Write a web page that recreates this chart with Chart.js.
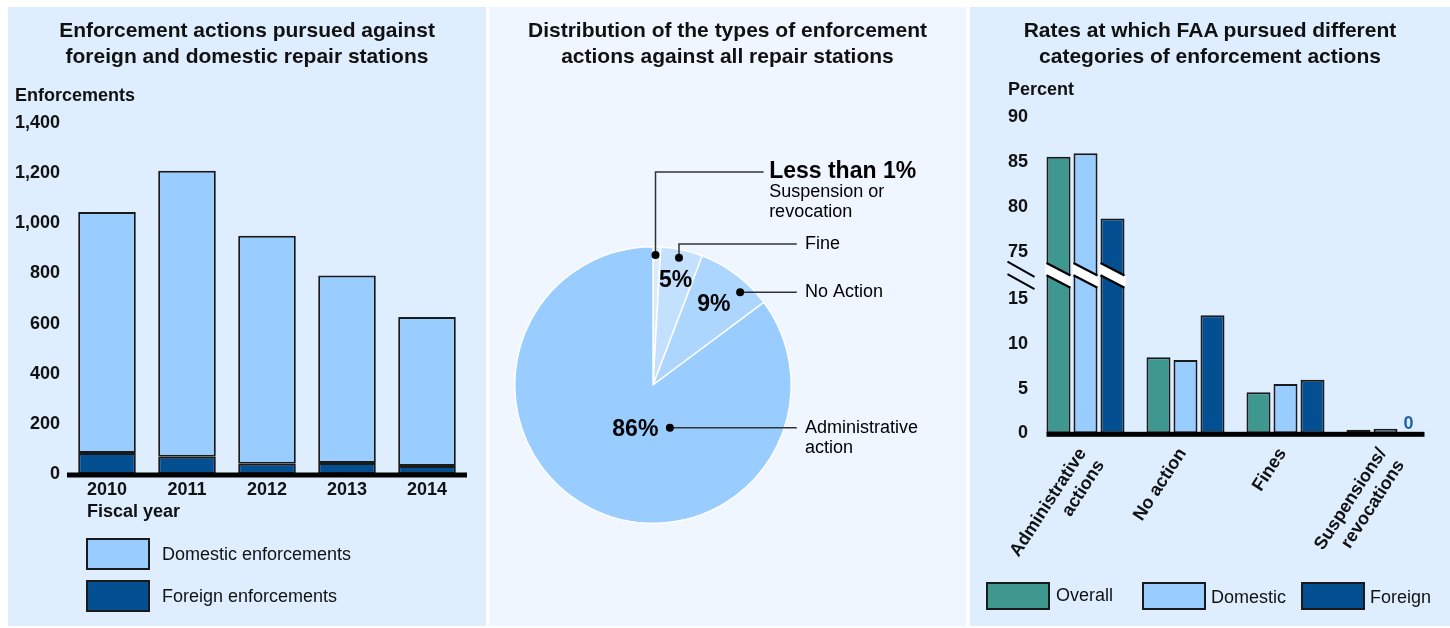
<!DOCTYPE html>
<html>
<head>
<meta charset="utf-8">
<script src="https://cdn.jsdelivr.net/npm/chart.js@4.4.1/dist/chart.umd.min.js"></script>
<style>
  body { margin: 0; width: 1450px; height: 628px; background: #fff; position: relative; overflow: hidden;
         font-family: "Liberation Sans", Arial, Helvetica, sans-serif; color: #111; }
  .panel { position: absolute; top: 7px; height: 619px; }
  #p1 { left: 8px; width: 478px; background: #deeeff; }
  #p2 { left: 489px; width: 477px; background: #eff6ff; }
  #p3 { left: 970px; width: 480px; background: #deeeff; }
  .panel canvas { position: absolute; left: 0; top: 0; }
  .title { position: absolute; left: 0; right: 0; top: 10px; text-align: center; font-weight: bold;
           font-size: 21px; line-height: 26px; }
  .axlabel { position: absolute; font-weight: bold; font-size: 18px; line-height: 20px; }
  .box { position: absolute; box-sizing: border-box; border: 2px solid #1a1a1a; }
  .lgtext { position: absolute; font-size: 18px; line-height: 20px; }
</style>
</head>
<body>
<div class="panel" id="p1">
  <canvas id="c1" width="478" height="619"></canvas>
  <div class="title">Enforcement actions pursued against<br>foreign and domestic repair stations</div>
  <div class="axlabel" style="left:7px;top:78px">Enforcements</div>
  <div class="axlabel" style="left:79px;top:494px">Fiscal year</div>
  <div class="box" style="left:78px;top:531px;width:64px;height:32px;background:#99ccff"></div>
  <div class="lgtext" style="left:154px;top:537px">Domestic enforcements</div>
  <div class="box" style="left:78px;top:573px;width:64px;height:32px;background:#034f92"></div>
  <div class="lgtext" style="left:154px;top:579px">Foreign enforcements</div>
</div>
<div class="panel" id="p2">
  <canvas id="c2" width="477" height="619"></canvas>
  <div class="title">Distribution of the types of enforcement<br>actions against all repair stations</div>
</div>
<div class="panel" id="p3">
  <canvas id="c3" width="480" height="619"></canvas>
  <div class="title">Rates at which FAA pursued different<br>categories of enforcement actions</div>
  <div class="axlabel" style="left:38px;top:72px">Percent</div>
  <div class="box" style="left:16px;top:575px;width:64px;height:28px;background:#3f9890"></div>
  <div class="lgtext" style="left:86px;top:578px">Overall</div>
  <div class="box" style="left:172px;top:575px;width:64px;height:28px;background:#99ccff"></div>
  <div class="lgtext" style="left:241px;top:580px">Domestic</div>
  <div class="box" style="left:331px;top:575px;width:64px;height:28px;background:#034f92"></div>
  <div class="lgtext" style="left:400px;top:580px">Foreign</div>
</div>
<script>
// ---- data: left panel, enforcements per fiscal year
const years = ['2010', '2011', '2012', '2013', '2014'];
const domesticEnf = [961, 1141, 909, 748, 594];
const foreignEnf = [84, 69, 41, 44, 32];

// ---- data: middle panel, share of enforcement types (percent)
const typeNames = ['Suspension or revocation', 'Fine', 'No Action', 'Administrative action'];
const typeShares = [0.9, 4.9, 9.0, 85.2];
const typeLabels = ['Less than 1%', '5%', '9%', '86%'];

// ---- data: right panel, rates by category (percent)
const rateCats = [['Administrative', 'actions'], 'No action', 'Fines', ['Suspensions/', 'revocations']];
const rateOverall = [85.6, 8.5, 4.6, 0.4];
const rateDomestic = [86.0, 8.2, 5.5, 0.5];
const rateForeign = [78.7, 13.2, 6.0, 0];
const rateTicks = [0, 5, 10, 15, 75, 80, 85, 90];

const FONT = '"Liberation Sans", Arial, sans-serif';
const C_DOM = '#99ccff', C_FOR = '#034f92', C_ALL = '#3f9890', C_EDGE = '#1a1a1a';

Chart.defaults.font.family = FONT;
Chart.defaults.color = '#111';
Chart.defaults.animation = false;
Chart.defaults.plugins.legend.display = false;
Chart.defaults.plugins.tooltip.enabled = false;

// thick black baseline at value 0
function baseLine(x0, x1, y) {
  return (ctx) => {
    ctx.save();
    ctx.fillStyle = '#000';
    ctx.fillRect(x0, y - 1.5, x1 - x0, 5);
    ctx.restore();
  };
}

// ---------------- left: stacked bars ----------------
new Chart(document.getElementById('c1'), {
  type: 'bar',
  data: {
    labels: years,
    datasets: [
      { label: 'Foreign enforcements', data: foreignEnf, backgroundColor: C_FOR,
        borderColor: C_EDGE, borderWidth: 2, borderSkipped: false, barPercentage: 0.72, categoryPercentage: 1 },
      { label: 'Domestic enforcements', data: domesticEnf, backgroundColor: C_DOM,
        borderColor: C_EDGE, borderWidth: 2, borderSkipped: false, barPercentage: 0.72, categoryPercentage: 1 }
    ]
  },
  options: {
    responsive: false,
    layout: { padding: { top: 116, right: 19, left: 0, bottom: 0 } },
    scales: {
      x: {
        stacked: true,
        grid: { display: false, drawTicks: false }, border: { display: false },
        ticks: { font: { size: 18, weight: 'bold' }, padding: 5 },
        afterFit: (s) => { s.height = 152; }
      },
      y: {
        stacked: true, min: 0, max: 1400,
        grid: { display: false, drawTicks: false }, border: { display: false },
        ticks: { stepSize: 200, font: { size: 18, weight: 'bold' }, padding: 7 },
        afterFit: (s) => { s.width = 59; }
      }
    }
  },
  plugins: [{
    id: 'zeroLine1',
    afterDatasetsDraw(chart) {
      const a = chart.chartArea;
      baseLine(a.left, a.right, chart.scales.y.getPixelForValue(0))(chart.ctx);
    }
  }]
});

// ---------------- middle: pie ----------------
// callouts: dot at fraction t of the slice angle and rf of the radius;
// leader elbow / end and text x are in radius units from the centre
const callouts = [
  { t: 0.34, rf: 0.94, elbowY: -1.54, endX: 0.80, textX: 0.84, big: true },
  { t: 0.47, rf: 0.94, elbowY: -1.02, endX: 1.04, textX: 1.10 },
  { t: 0.69, rf: 0.92, endX: 1.04, textX: 1.10 },
  { t: 0.343, rf: 0.333, endX: 1.04, textX: 1.10 }
];
const pctPos = [null, { t: 0.51, rf: 0.77 }, { t: 0.5, rf: 0.73 }, { t: 0.483, rf: 0.35 }];
const calloutText = [['Suspension or', 'revocation'], ['Fine'], ['No Action'], ['Administrative', 'action']];

new Chart(document.getElementById('c2'), {
  type: 'pie',
  data: {
    labels: typeNames,
    datasets: [{
      data: typeShares,
      backgroundColor: ['#dcecff', '#c3e0ff', '#add6ff', '#99ccff'],
      borderColor: '#ffffff', borderWidth: 1.5
    }]
  },
  options: {
    responsive: false,
    layout: { padding: { left: 25, top: 239, right: 174, bottom: 102 } }
  },
  plugins: [{
    id: 'callouts',
    afterDatasetsDraw(chart) {
      const ctx = chart.ctx;
      const arcs = chart.getDatasetMeta(0).data;
      const pt = (arc, t, rf) => {
        const ang = arc.startAngle + t * (arc.endAngle - arc.startAngle);
        return [arc.x + rf * arc.outerRadius * Math.cos(ang), arc.y + rf * arc.outerRadius * Math.sin(ang)];
      };
      ctx.save();
      arcs.forEach((arc, i) => {
        const c = callouts[i];
        const R = arc.outerRadius;
        const [dx, dy] = pt(arc, c.t, c.rf);
        ctx.strokeStyle = '#333';
        ctx.lineWidth = 1.5;
        ctx.beginPath();
        ctx.moveTo(dx, dy);
        let ly = dy;
        if (c.elbowY !== undefined) {
          ly = arc.y + c.elbowY * R;
          ctx.lineTo(dx, ly);
        }
        ctx.lineTo(arc.x + c.endX * R, ly);
        ctx.stroke();
        ctx.fillStyle = '#000';
        ctx.beginPath();
        ctx.arc(dx, dy, 4, 0, Math.PI * 2);
        ctx.fill();

        const tx = arc.x + c.textX * R;
        ctx.textAlign = 'left';
        ctx.textBaseline = 'middle';
        let y = ly;
        if (c.big) {
          ctx.font = 'bold 23px ' + FONT;
          ctx.fillText(typeLabels[i], tx, y);
          y += 20;
        }
        ctx.font = '18px ' + FONT;
        calloutText[i].forEach((line, k) => ctx.fillText(line, tx, y + k * 20));

        if (pctPos[i]) {
          const [px, py] = pt(arc, pctPos[i].t, pctPos[i].rf);
          ctx.font = 'bold 23px ' + FONT;
          ctx.textAlign = 'center';
          ctx.fillText(typeLabels[i], px, py);
        }
      });
      ctx.restore();
    }
  }]
});

// ---------------- right: grouped bars with broken axis ----------------
const BREAK_LOW = 15, BREAK_HIGH = 75, BREAK_SHIFT = 54.68;
const toAxis = (v) => (v > BREAK_LOW ? v - BREAK_SHIFT : v);
const breakMid = (BREAK_LOW + (BREAK_HIGH - BREAK_SHIFT)) / 2;

function rateSet(label, values, color) {
  return {
    label, data: values.map(toAxis), backgroundColor: color, borderColor: C_EDGE, borderWidth: 2,
    borderSkipped: false, barPercentage: 0.889, categoryPercentage: 0.81
  };
}

new Chart(document.getElementById('c3'), {
  type: 'bar',
  data: {
    labels: rateCats,
    datasets: [
      rateSet('Overall', rateOverall, C_ALL),
      rateSet('Domestic', rateDomestic, C_DOM),
      rateSet('Foreign', rateForeign, C_FOR)
    ]
  },
  options: {
    responsive: false,
    layout: { padding: { top: 110.5, right: 14.5, left: 0, bottom: 0 } },
    scales: {
      x: {
        grid: { display: false, drawTicks: false }, border: { display: false },
        ticks: { font: { size: 18, weight: 'bold' }, minRotation: 57, maxRotation: 57, autoSkip: false,
                 padding: 11, labelOffset: -3 },
        afterFit: (s) => { s.height = 192.7; }
      },
      y: {
        min: 0, max: toAxis(90),
        grid: { display: false, drawTicks: false }, border: { display: false },
        afterBuildTicks: (s) => { s.ticks = rateTicks.map((v) => ({ value: toAxis(v) })); },
        ticks: { font: { size: 18, weight: 'bold' }, padding: 7.5, callback: (v, i) => rateTicks[i] },
        afterFit: (s) => { s.width = 65.5; }
      }
    }
  },
  plugins: [{
    id: 'breaks',
    afterDatasetsDraw(chart) {
      const ctx = chart.ctx;
      const yc = chart.scales.y.getPixelForValue(breakMid);
      const half = 6.15;
      const first = chart.getDatasetMeta(0).data[0];
      const last = chart.getDatasetMeta(2).data[3];
      baseLine(first.x - first.width / 2, last.x + last.width / 2, chart.scales.y.getPixelForValue(0))(ctx);

      ctx.save();
      // white band through the bars that cross the break
      for (let d = 0; d < 3; d++) {
        chart.getDatasetMeta(d).data.forEach((bar, i) => {
          if (chart.data.datasets[d].data[i] <= BREAK_LOW) return;
          const xl = bar.x - bar.width / 2 - 1, xr = bar.x + bar.width / 2 + 1;
          const k = 0.518;
          const y1 = (x) => yc - half + k * (x - bar.x);
          const y2 = (x) => yc + half + k * (x - bar.x);
          ctx.fillStyle = '#ffffff';
          ctx.beginPath();
          ctx.moveTo(xl, y1(xl)); ctx.lineTo(xr, y1(xr)); ctx.lineTo(xr, y2(xr)); ctx.lineTo(xl, y2(xl));
          ctx.closePath();
          ctx.fill();
          ctx.strokeStyle = '#000';
          ctx.lineWidth = 2.2;
          ctx.beginPath();
          ctx.moveTo(xl + 1, y1(xl + 1)); ctx.lineTo(xr - 1, y1(xr - 1));
          ctx.moveTo(xl + 1, y2(xl + 1)); ctx.lineTo(xr - 1, y2(xr - 1));
          ctx.stroke();
        });
      }
      // double slash on the value axis
      const a = chart.chartArea;
      const x0 = a.left - 28, x1 = a.left - 1, xm = (x0 + x1) / 2, k = 0.556;
      ctx.strokeStyle = '#000';
      ctx.lineWidth = 2;
      ctx.beginPath();
      [-half, half].forEach((o) => {
        ctx.moveTo(x0, yc + o + k * (x0 - xm));
        ctx.lineTo(x1, yc + o + k * (x1 - xm));
      });
      ctx.stroke();

      // value label for zero-height bars
      chart.getDatasetMeta(2).data.forEach((bar, i) => {
        if (rateForeign[i] !== 0) return;
        ctx.fillStyle = '#1f62a5';
        ctx.font = 'bold 18px ' + FONT;
        ctx.textAlign = 'center';
        ctx.textBaseline = 'alphabetic';
        ctx.fillText(String(rateForeign[i]), bar.x - 4, bar.y - 4);
      });
      ctx.restore();
    }
  }]
});
</script>
</body>
</html>
